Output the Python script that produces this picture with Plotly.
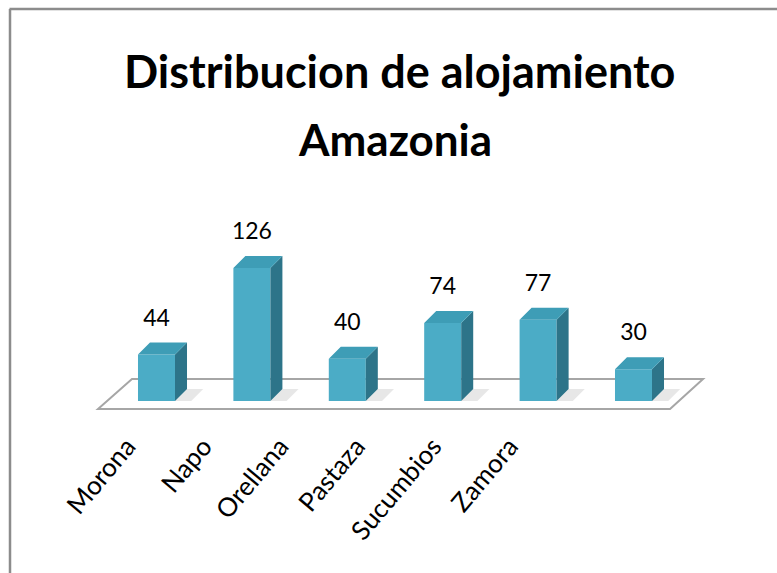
import plotly.graph_objects as go

# ---- data ----
categories = ["Morona", "Napo", "Orellana", "Pastaza", "Sucumbios", "Zamora"]
values = [44, 126, 40, 74, 77, 30]
title_line1 = "Distribucion de alojamiento"
title_line2 = "Amazonia"

W, H = 777, 573
n = len(categories)
idx = list(range(n))

# ---- geometry (pixel scale of the pseudo-3D view) ----
px_per_x = 95.4          # pixels per category step
px_per_y = 1.055         # pixels per unit value
x0_px = 156.5            # pixel x of first bar centre
y0_px = 401              # pixel y (from top) of value 0
xr = [-x0_px / px_per_x, -x0_px / px_per_x + W / px_per_x]
yr = [-(H - y0_px) / px_per_y, -(H - y0_px) / px_per_y + H / px_per_y]

bw = 0.388               # bar width (x units)
dx = 12 / px_per_x       # depth offset x
dy = 12 / px_per_y       # depth offset y

FRONT = "#4BACC6"
TOP = "#3E9DB6"
SIDE = "#2D7489"

fig = go.Figure()

# front faces
fig.add_trace(go.Bar(x=idx, y=values, width=bw, marker=dict(color=FRONT, line=dict(width=0)),
                     hoverinfo="skip", showlegend=False))

# side faces
sx, sy = [], []
for i, v in zip(idx, values):
    r = i + bw / 2
    sx += [r, r + dx, r + dx, r, r, None]
    sy += [0, dy, v + dy, v, 0, None]
fig.add_trace(go.Scatter(x=sx, y=sy, mode="lines", fill="toself", fillcolor=SIDE,
                         line=dict(width=0, color=SIDE), hoverinfo="skip", showlegend=False))

# top faces
tx, ty = [], []
for i, v in zip(idx, values):
    l, r = i - bw / 2, i + bw / 2
    tx += [l, r, r + dx, l + dx, l, None]
    ty += [v, v, v + dy, v + dy, v, None]
fig.add_trace(go.Scatter(x=tx, y=ty, mode="lines", fill="toself", fillcolor=TOP,
                         line=dict(width=0, color=TOP), hoverinfo="skip", showlegend=False))

# data labels
fig.add_trace(go.Scatter(x=idx, y=[v + 33 for v in values], mode="text",
                         text=[str(v) for v in values],
                         textfont=dict(family="Lato", size=23, color="#000000"),
                         hoverinfo="skip", showlegend=False))

# invisible trace carrying the category axis labels
fig.add_trace(go.Scatter(x=categories, y=[0] * n, xaxis="x2", yaxis="y2", mode="markers",
                         marker=dict(opacity=0), hoverinfo="skip", showlegend=False))

# floor (below traces)
fy_front = -7.6
fy_back = 20.9
floor_path = (f"M {-0.613},{fy_front} L {n - 1 + 0.383},{fy_front} "
              f"L {n - 1 + 0.729},{fy_back} L {-0.257},{fy_back} Z")
shapes = [dict(type="path", path=floor_path, xref="x", yref="y", layer="below",
               fillcolor="white", line=dict(color="#A6A6A6", width=2))]

# shadows on floor
for i, v in zip(idx, values):
    r = i + bw / 2
    shapes.append(dict(type="path", xref="x", yref="y", layer="below",
                       path=f"M {r},{0} L {r + 0.17},{0} L {r + 0.17 + dx},{dy} L {r + dx},{dy} Z",
                       fillcolor="rgba(120,120,120,0.18)", line=dict(width=0)))

# outer frame (top and left edges)
shapes.append(dict(type="line", xref="paper", yref="paper", x0=9.5 / W, x1=1, y0=1 - 9 / H, y1=1 - 9 / H,
                   line=dict(color="#8C8C8C", width=2.5)))
shapes.append(dict(type="line", xref="paper", yref="paper", x0=10 / W, x1=10 / W, y0=0, y1=1 - 9 / H,
                   line=dict(color="#8C8C8C", width=2.5)))

lab_step = 76.5
lab_t0 = 127
d0 = (lab_t0 - lab_step / 2) / W
d1 = d0 + lab_step * n / W

fig.update_layout(
    template="none",
    width=W, height=H,
    margin=dict(l=0, r=0, t=0, b=0, pad=0),
    paper_bgcolor="white", plot_bgcolor="rgba(0,0,0,0)",
    xaxis=dict(range=xr, visible=False, domain=[0, 1], automargin=False),
    yaxis=dict(range=yr, visible=False, domain=[0, 1], automargin=False),
    xaxis2=dict(domain=[d0, d1], anchor="free", position=1 - 425 / H, type="category",
                categoryarray=categories, range=[-0.5, n - 0.5], automargin=False,
                showgrid=False, zeroline=False, showline=False, ticks="",
                tickangle=-50, tickfont=dict(family="Lato", size=26, color="#000000")),
    yaxis2=dict(domain=[0, 1], anchor="x2", range=[0, 1], visible=False, automargin=False),
    shapes=shapes,
    annotations=[
        dict(text=f"<b>{title_line1}</b>", xref="paper", yref="paper", x=399 / W, y=1 - 71 / H,
             xanchor="center", yanchor="middle", showarrow=False,
             font=dict(family="Lato", size=45, color="#000000")),
        dict(text=f"<b>{title_line2}</b>", xref="paper", yref="paper", x=395 / W, y=1 - 139 / H,
             xanchor="center", yanchor="middle", showarrow=False,
             font=dict(family="Lato", size=44, color="#000000")),
    ],
    showlegend=False,
)

fig.write_html("out.html", config={"displayModeBar": False},
               post_script="document.body.style.margin='0';")
